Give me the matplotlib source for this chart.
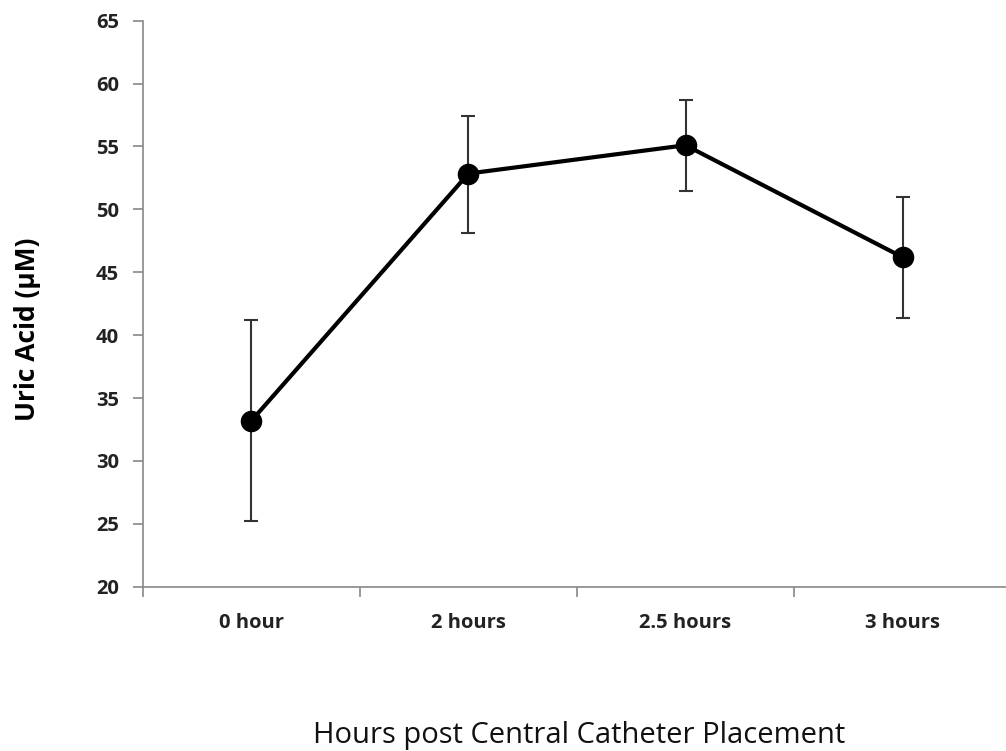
import numpy as np
import matplotlib.pyplot as plt

categories = ['0 hour', '2 hours', '2.5 hours', '3 hours']
uric_acid = [33.2, 52.85, 55.1, 46.2]
err_low = [25.2, 48.1, 51.5, 41.4]
err_high = [41.2, 57.4, 58.7, 51.0]

plt.rcParams['font.family'] = ['Open Sans', 'DejaVu Sans']

fig = plt.figure(figsize=(10.06, 7.51), dpi=100)
ax = fig.add_axes([0.1421, 0.2188, 0.8629, 0.7536])

x = np.arange(len(categories))
vals = np.array(uric_acid)
yerr = [vals - np.array(err_low), np.array(err_high) - vals]

ax.errorbar(x, vals, yerr=yerr, fmt='none', ecolor='#333333', elinewidth=1.5,
            capsize=4.7, capthick=1.5, zorder=2)
ax.plot(x, vals, color='black', lw=3, marker='o', markersize=14.5, zorder=3)

ax.set_xlim(-0.5, 3.5)
ax.set_ylim(20, 65)
ax.set_yticks(np.arange(20, 66, 5))
ax.set_xticks(x)
ax.set_xticklabels(categories)
ax.set_xticks(np.arange(-0.5, 4, 1), minor=True)
ax.tick_params(axis='x', which='major', length=0, pad=19)
ax.tick_params(axis='x', which='minor', length=7.2, color='#888888', width=1.2)
ax.tick_params(axis='y', length=7.2, color='#888888', width=1.2, pad=10)
for lab in ax.get_xticklabels() + ax.get_yticklabels():
    lab.set_fontweight('bold')
    lab.set_fontsize(14.5)
    lab.set_color('#222222')

for side in ['top', 'right']:
    ax.spines[side].set_visible(False)
for side in ['left', 'bottom']:
    ax.spines[side].set_color('#888888')
    ax.spines[side].set_linewidth(1.2)

ax.set_ylabel('Uric Acid (\u03bcM)', fontsize=19, fontweight='bold')
ax.yaxis.set_label_coords(-0.118, 0.455)
fig.text(0.576, 0.0107, 'Hours post Central Catheter Placement', fontsize=21,
         ha='center', va='baseline', color='#111111')

fig.savefig('out.png', dpi=100)
